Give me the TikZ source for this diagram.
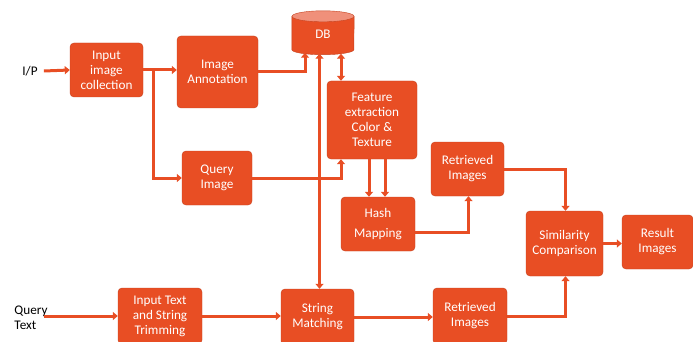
\documentclass[tikz,border=0pt]{standalone}
\usepackage{fontspec}
\setmainfont{Carlito}
\usetikzlibrary{arrows.meta}
\definecolor{boxred}{HTML}{E84E24}
\definecolor{dbtop}{HTML}{F0907A}
\tikzset{>={Triangle[length=5pt,width=8pt]}}
\tikzset{
  blk/.style={fill=boxred, draw=boxred!85!black, line width=0.4pt, rounded corners=4pt,
    text=white, align=center, inner sep=1pt,
    font=\fontsize{13.2}{15}\selectfont},
  flow/.style={draw=boxred, line width=3pt, ->},
  flowboth/.style={draw=boxred, line width=3pt, <->},
  lbl/.style={text=black, align=left, inner sep=0pt, font=\fontsize{13.2}{15.5}\selectfont}
}
\begin{document}
\begin{tikzpicture}[x=1pt,y=-1pt]
\clip (0,0) rectangle (693,342);
% inputs
\node[lbl] (ip) at (30,71) {I/P};
\node[lbl] (qt) at (31,318) {Query\\Text};
% database
\node[minimum width=62pt, minimum height=33pt, inner sep=0pt] (db) at (323,33) {};
\filldraw[fill=boxred, draw=boxred!85!black, line width=0.4pt] (db.north west) -- (db.south west)
  arc[start angle=180, end angle=360, x radius=31pt, y radius=5pt] -- (db.north east) -- cycle;
\filldraw[fill=dbtop, draw=boxred!85!black, line width=0.4pt] (db.north) ellipse[x radius=31pt, y radius=5.5pt];
\node[text=white, font=\fontsize{13.2}{15}\selectfont] (dbl) at (323,34) {DB};
% blocks
\node[blk, minimum width=73pt, minimum height=54pt] (inp) at (106.5,70) {Input\\image\\collection};
\node[blk, minimum width=81pt, minimum height=72pt] (ann) at (217.5,72) {Image\\Annotation};
\node[blk, minimum width=90pt, minimum height=78pt] (feat) at (372,120) {Feature\\extraction\\Color \&\\Texture};
\node[blk, minimum width=70pt, minimum height=54pt] (qimg) at (217,178) {Query\\Image};
\node[blk, minimum width=74pt, minimum height=54pt, font=\fontsize{13.2}{20}\selectfont] (hash) at (378,224) {Hash\\Mapping};
\node[blk, minimum width=73pt, minimum height=54pt] (ret1) at (467.5,169) {Retrieved\\Images};
\node[blk, minimum width=77pt, minimum height=65pt] (sim) at (564.5,243.5) {Similarity\\Comparison};
\node[blk, minimum width=71pt, minimum height=54pt] (res) at (657.5,242) {Result\\Images};
\node[blk, minimum width=84pt, minimum height=56pt] (txt) at (160,316) {Input Text\\and String\\Trimming};
\node[blk, minimum width=73pt, minimum height=56pt] (sm) at (317.5,317) {String\\Matching};
\node[blk, minimum width=74pt, minimum height=56pt] (ret2) at (470,316) {Retrieved\\Images};
% connectors
\draw[flow] (ip.east) ++(6pt,0) -- (inp.west);
\draw[flow] (inp.east) -- (inp.east -| ann.west);
\draw[flow] ([xshift=10pt]inp.east) |- (qimg.west);
\draw[flow] (ann.east) -| ([xshift=-18pt,yshift=-3pt]db.south);
\draw[flowboth] ([xshift=2pt]sm.north) -- ([xshift=2pt,yshift=-4pt]sm.north |- db.south);
\draw[flow] (qimg.east) -| ([xshift=-31pt]feat.south);
\draw[flowboth] ([xshift=-31pt]feat.north) -- ([xshift=-31pt,yshift=-4pt]feat.north |- db.south);
\draw[flow] ([xshift=-3pt]feat.south) -- ([xshift=-3pt]feat.south |- hash.north);
\draw[flow] ([xshift=13pt]feat.south) -- ([xshift=13pt]feat.south |- hash.north);
\draw[flow] ([yshift=-8pt]hash.east) -| ([xshift=1pt]ret1.south);
\draw[flow] (ret1.east) -| ([xshift=1pt]sim.north);
\draw[flow] (sim.east) -- (sim.east -| res.west);
\draw[flow] ([xshift=-4pt]qt.east |- txt.west) -- (txt.west);
\draw[flow] (txt.east) -- (txt.east -| sm.west);
\draw[flow] (sm.east) -- (sm.east -| ret2.west);
\draw[flow] (ret2.east) -| ([xshift=1pt]sim.south);
\end{tikzpicture}
\end{document}
